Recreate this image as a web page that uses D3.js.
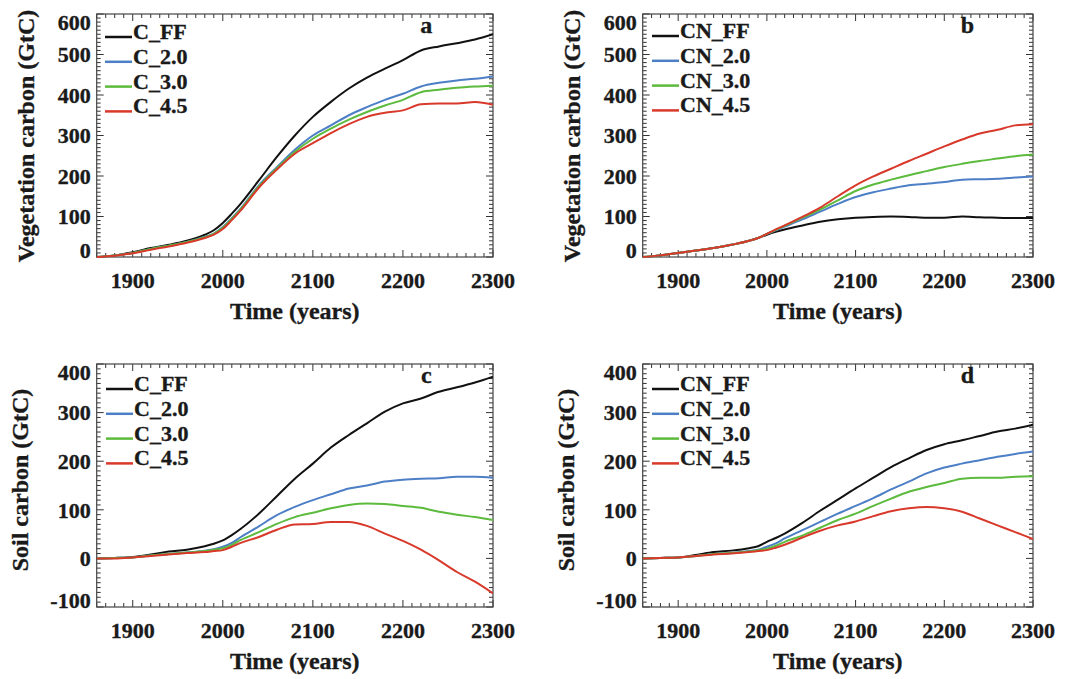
<!DOCTYPE html>
<html><head><meta charset="utf-8">
<script src="https://cdn.jsdelivr.net/npm/d3@7"></script>
<style>
html,body{margin:0;padding:0;background:#fff;}
svg text{font-family:"Liberation Serif","Times New Roman",serif;font-weight:bold;fill:#1a1a1a;stroke:#1a1a1a;stroke-width:0.35px;}
</style></head>
<body><svg id="chart" width="1072" height="679"></svg>
<script>
// ---- data ----
const years = [1860,1880,1900,1920,1940,1960,1980,1990,2000,2010,2020,2040,2060,2080,2100,2120,2140,2160,2180,2200,2220,2240,2260,2280,2300];
const xTicks = [1900,2000,2100,2200,2300];
const vegTicks = [0,100,200,300,400,500,600];
const soilTicks = [-100,0,100,200,300,400];

// panel a: vegetation carbon, C-only
const vegC_FF  = [0,4,12,22,30,40,55,66,84,107,132,189,247,300,346,383,416,443,465,486,510,520,528,537,550];
const vegC_20  = [0,4,10,20,28,37,50,58,74,96,120,177,222,265,300,325,350,370,388,403,421,430,436,440,446];
const vegC_30  = [0,4,10,20,28,37,49,57,72,94,118,174,219,260,292,317,339,358,374,388,407,413,418,421,423];
const vegC_45  = [0,3,9,18,26,35,47,55,69,91,115,171,216,255,281,306,328,346,356,362,377,379,379,383,376];
// panel b: vegetation carbon, CN
const vegCN_FF = [0,4,10,16,22,30,40,47,55,62,68,78,87,93,97,99,100,99,97,97,100,98,97,96,96];
const vegCN_20 = [0,4,10,16,22,30,40,47,57,66,75,93,112,131,148,160,169,177,181,185,191,192,193,196,199];
const vegCN_30 = [0,4,10,16,22,30,40,47,57,67,77,97,117,140,163,179,191,202,212,222,230,237,243,249,253];
const vegCN_45 = [0,4,10,16,22,30,40,47,57,68,78,99,122,150,177,199,218,237,255,273,290,305,314,325,328];
// panel c: soil carbon, C-only
const soilC_FF = [0,1,3,8,14,18,25,30,37,48,61,92,128,164,195,228,254,278,302,319,329,343,352,362,374];
const soilC_20 = [0,1,2,6,9,12,16,19,24,32,44,66,89,106,120,132,144,150,158,162,164,165,168,168,166];
const soilC_30 = [0,1,2,6,9,12,15,18,21,28,38,54,71,85,94,103,110,113,112,108,104,96,90,85,79];
const soilC_45 = [0,0,2,5,8,11,13,15,17,24,32,44,59,70,71,75,75,67,51,36,18,-4,-28,-48,-72];
// panel d: soil carbon, CN
const soilCN_FF = [0,1,2,7,13,16,21,25,34,42,51,73,98,121,144,166,188,206,223,235,243,252,261,267,275];
const soilCN_20 = [0,1,2,5,9,11,15,18,24,31,41,58,75,92,108,124,142,158,175,187,195,202,209,215,220];
const soilCN_30 = [0,1,2,5,9,11,14,17,20,26,34,47,63,79,92,108,123,137,147,155,164,166,166,168,169];
const soilCN_45 = [0,1,2,5,8,10,13,15,17,22,28,43,57,68,76,87,97,103,106,103,96,82,68,54,40];

const namesC  = ["C_FF","C_2.0","C_3.0","C_4.5"];
const namesCN = ["CN_FF","CN_2.0","CN_3.0","CN_4.5"];
const colors = ["#111111","#4d7fc6","#5cba3c","#d8392b"];

// ---- layout ----
const panels = [
  {letter:"a", x0:96.7, x1:493, y0:14, y1:257, dom:[0,600], ticks:vegTicks, title:"Vegetation carbon (GtC)", titleX:34, titleY:136, names:namesC, series:[vegC_FF,vegC_20,vegC_30,vegC_45], legX:105, legY:37},
  {letter:"b", x0:642.7, x1:1033, y0:14, y1:257, dom:[0,600], ticks:vegTicks, title:"Vegetation carbon (GtC)", titleX:580, titleY:136, names:namesCN, series:[vegCN_FF,vegCN_20,vegCN_30,vegCN_45], legX:652, legY:36},
  {letter:"c", x0:96.7, x1:493, y0:364, y1:607, dom:[-100,400], ticks:soilTicks, title:"Soil carbon (GtC)", titleX:28, titleY:480, names:namesC, series:[soilC_FF,soilC_20,soilC_30,soilC_45], legX:106, legY:389},
  {letter:"d", x0:642.7, x1:1033, y0:364, y1:607, dom:[-100,400], ticks:soilTicks, title:"Soil carbon (GtC)", titleX:574, titleY:480, names:namesCN, series:[soilCN_FF,soilCN_20,soilCN_30,soilCN_45], legX:652, legY:389}
];

const svg = d3.select("#chart");

panels.forEach(p => {
  const x = d3.scaleLinear().domain([1860,2300]).range([p.x0,p.x1]);
  const y = d3.scaleLinear().domain(p.dom).range([p.y1,p.y0]);
  const g = svg.append("g");

  const cid = "clip"+p.letter;
  g.append("clipPath").attr("id",cid).append("rect")
    .attr("x",p.x0).attr("y",p.y0-2).attr("width",p.x1-p.x0).attr("height",p.y1-p.y0+4);

  // ticks (inward, all four sides)
  const minorX = d3.range(1860,2301,10);
  const minorY = d3.range(p.dom[0],p.dom[1]+1,10);
  const tk = g.append("g").attr("stroke","#333").attr("stroke-width",1);
  minorX.forEach(v => {
    const len = xTicks.includes(v) ? 7 : 4;
    tk.append("line").attr("x1",x(v)).attr("x2",x(v)).attr("y1",p.y1).attr("y2",p.y1-len);
    tk.append("line").attr("x1",x(v)).attr("x2",x(v)).attr("y1",p.y0).attr("y2",p.y0+len);
  });
  minorY.forEach(v => {
    const len = p.ticks.includes(v) ? 7 : 4;
    tk.append("line").attr("x1",p.x0).attr("x2",p.x0+len).attr("y1",y(v)).attr("y2",y(v));
    tk.append("line").attr("x1",p.x1).attr("x2",p.x1-len).attr("y1",y(v)).attr("y2",y(v));
  });

  g.append("rect").attr("x",p.x0).attr("y",p.y0).attr("width",p.x1-p.x0).attr("height",p.y1-p.y0)
    .attr("fill","none").attr("stroke","#444").attr("stroke-width",1.2);

  // tick labels
  p.ticks.forEach(v => {
    const cy = Math.max(p.y0+8, Math.min(p.y1-7, y(v)));
    g.append("text").attr("x",p.x0-6).attr("y",cy).attr("dy","0.35em")
      .attr("text-anchor","end").attr("font-size",22).text(v);
  });
  xTicks.forEach(v => {
    g.append("text").attr("x",x(v)).attr("y",p.y1+31).attr("text-anchor","middle")
      .attr("font-size",22).text(v);
  });

  // titles
  g.append("text").attr("x",(p.x0+p.x1)/2).attr("y",p.y1+62).attr("text-anchor","middle")
    .attr("font-size",24).text("Time (years)");
  g.append("text").attr("transform",`translate(${p.titleX},${p.titleY}) rotate(-90)`)
    .attr("text-anchor","middle").attr("font-size",24).text(p.title);

  // panel letter
  g.append("text").attr("x",x(2226)).attr("y",p.y0+19)
    .attr("text-anchor","middle").attr("font-size",24).text(p.letter);

  // lines
  const line = d3.line().x((d,i)=>x(years[i])).y(d=>y(d)).curve(d3.curveMonotoneX);
  const lg = g.append("g").attr("clip-path",`url(#${cid})`);
  p.series.forEach((s,i) => {
    lg.append("path").datum(s).attr("d",line).attr("fill","none")
      .attr("stroke",colors[i]).attr("stroke-width",2).attr("stroke-linejoin","round");
  });

  // legend
  p.names.forEach((n,i) => {
    const ly = p.legY + i*24.8;
    g.append("line").attr("x1",p.legX).attr("x2",p.legX+27).attr("y1",ly).attr("y2",ly)
      .attr("stroke",colors[i]).attr("stroke-width",2.5);
    g.append("text").attr("x",p.legX+28).attr("y",ly+2).attr("font-size",22).text(n);
  });
});
</script></body></html>
